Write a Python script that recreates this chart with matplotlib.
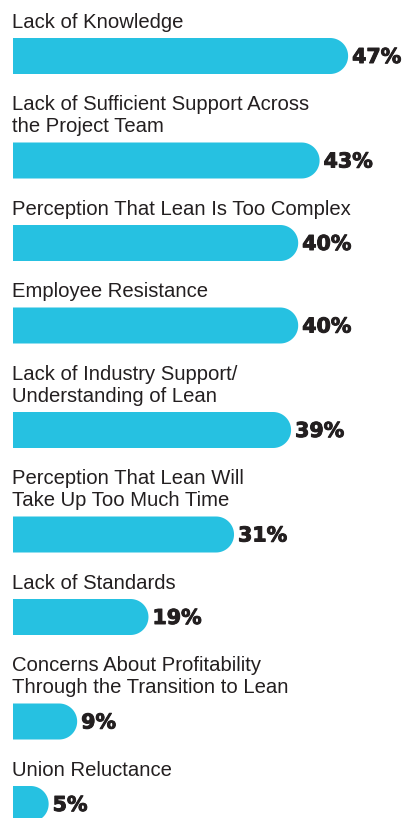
import matplotlib
matplotlib.use("Agg")
import numpy as np
import matplotlib.pyplot as plt
import matplotlib.patheffects as pe

categories = [
    "Lack of Knowledge",
    "Lack of Sufficient Support Across\nthe Project Team",
    "Perception That Lean Is Too Complex",
    "Employee Resistance",
    "Lack of Industry Support/\nUnderstanding of Lean",
    "Perception That Lean Will\nTake Up Too Much Time",
    "Lack of Standards",
    "Concerns About Profitability\nThrough the Transition to Lean",
    "Union Reluctance",
]
values = [47, 43, 40, 40, 39, 31, 19, 9, 5]
value_labels = ["47%", "43%", "40%", "40%", "39%", "31%", "19%", "9%", "5%"]

W, H, DPI = 406, 818, 100
BAR_COLOR = "#26C1E1"
TEXT_COLOR = "#231F20"
px_per_pct = 7.13
left_px = 13

fig = plt.figure(figsize=(W / DPI, H / DPI), dpi=DPI)
ax = fig.add_axes([0, 0, 1, 1])
ax.set_xlim(-left_px / px_per_pct, (W - left_px) / px_per_pct)
ax.set_ylim(H, 0)
ax.axis("off")

bar_h = 36
r_x = (bar_h / 2) / px_per_pct
step = 82.5
line_h = 22
theta = np.linspace(np.pi / 2, -np.pi / 2, 40)
center = 56.0
for i, (cat, v, lab) in enumerate(zip(categories, values, value_labels)):
    lines = cat.split("\n")
    if i > 0:
        center += step + line_h * (len(lines) - 1)
    # pill-shaped bar: flat left end, rounded right end
    xc = v - r_x
    xs = np.concatenate([[0], xc + r_x * np.cos(theta), [0]])
    ys = np.concatenate([[center - bar_h / 2],
                         center - (bar_h / 2) * np.sin(theta),
                         [center + bar_h / 2]])
    ax.fill(xs, ys, color=BAR_COLOR, linewidth=0)
    # category label lines
    base = center - bar_h / 2 - 10.3
    for j, ln in enumerate(reversed(lines)):
        ax.text(-0.15, base - j * line_h, ln, ha="left", va="baseline",
                fontsize=14.6, color=TEXT_COLOR,
                family=["Liberation Sans", "DejaVu Sans"])
    ax.text(v + 4 / px_per_pct, center + 1, lab, ha="left", va="center",
            fontsize=14.8, fontweight="bold", color=TEXT_COLOR,
            family=["DejaVu Sans"],
            path_effects=[pe.withStroke(linewidth=0.7, foreground=TEXT_COLOR)])

fig.savefig("out.png", dpi=DPI)
